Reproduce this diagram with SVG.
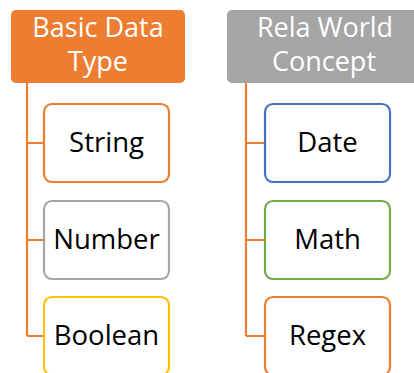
<svg xmlns="http://www.w3.org/2000/svg" width="414" height="373" viewBox="0 0 414 373">
  <style>
    .hdr { stroke: none; }
    .hdr-text { font-family: "Open Sans", "Liberation Sans", sans-serif; font-size: 27px; fill: #ffffff; text-anchor: middle; }
    .item { fill: #ffffff; stroke-width: 2.2; }
    .item-text { font-family: "Open Sans", "Liberation Sans", sans-serif; font-size: 27.5px; fill: #000000; text-anchor: middle; }
    .link { fill: none; stroke: #ED7D31; stroke-width: 2.2; }
  </style>
  <rect width="414" height="373" fill="#ffffff"/>

  <!-- connectors -->
  <g id="connectors">
    <path class="link" d="M27 83 V336 M27 143 H44 M27 240 H44 M27 336 H44"/>
    <path class="link" d="M246 83 V336 M246 143 H265 M246 240 H265 M246 336 H265"/>
  </g>

  <!-- left column -->
  <g id="basic-data-type">
    <rect class="hdr" x="11" y="10" width="174" height="73" rx="5" fill="#ED7D31"/>
    <text class="hdr-text" x="98" y="37">Basic Data</text>
    <text class="hdr-text" x="98" y="71">Type</text>
  </g>
  <g id="string">
    <rect class="item" x="44" y="104" width="125" height="78" rx="8" stroke="#ED7D31"/>
    <text class="item-text" x="106.5" y="152">String</text>
  </g>
  <g id="number">
    <rect class="item" x="44" y="201" width="125" height="78" rx="8" stroke="#A5A5A5"/>
    <text class="item-text" x="106.5" y="249">Number</text>
  </g>
  <g id="boolean">
    <rect class="item" x="44" y="297" width="125" height="78" rx="8" stroke="#FFC000"/>
    <text class="item-text" x="106.5" y="345">Boolean</text>
  </g>

  <!-- right column -->
  <g id="rela-world-concept">
    <rect class="hdr" x="227" y="10" width="196" height="73" rx="5" fill="#A5A5A5"/>
    <text class="hdr-text" x="325" y="37">Rela World</text>
    <text class="hdr-text" x="324" y="71">Concept</text>
  </g>
  <g id="date">
    <rect class="item" x="265" y="104" width="125" height="78" rx="8" stroke="#4472C4"/>
    <text class="item-text" x="327.5" y="152">Date</text>
  </g>
  <g id="math">
    <rect class="item" x="265" y="201" width="125" height="78" rx="8" stroke="#70AD47"/>
    <text class="item-text" x="327.5" y="249">Math</text>
  </g>
  <g id="regex">
    <rect class="item" x="265" y="297" width="125" height="78" rx="8" stroke="#ED7D31"/>
    <text class="item-text" x="327.5" y="345">Regex</text>
  </g>
</svg>
